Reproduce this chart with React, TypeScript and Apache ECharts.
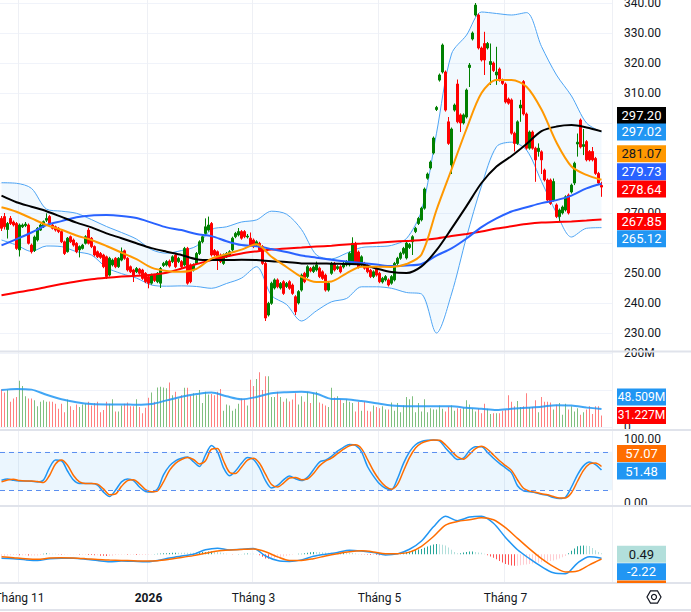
import React, { useEffect, useRef } from "react";
import * as echarts from "echarts";

const FONT = 'Roboto, "Liberation Sans", Arial, sans-serif';
const TEXT = "#131722";
const SLOTS = 204;

// x-axis month ticks (candle index) and their labels
const monthTicks = [6, 49, 84, 126, 168];
const monthLabels = ["Tháng 11", "2026", "Tháng 3", "Tháng 5", "Tháng 7"];
const yearLabel = "2026";

// candles: [open, close, low, high]
const candles: number[][] = [
  [268.2,264.9,264,269],[268.8,265.4,264.5,270],[264.5,266.5,261.5,267],[268.2,266.5,266,269],[267,266,265.5,267.5],
  [266.5,258.2,257.7,267],[257.7,266,255.5,266.5],[265.4,266,265,266.5],[265.8,266.3,265.3,267],[266,259.9,259.5,266.5],
  [259.3,257.1,256.5,259.8],[257.5,262,257,262.5],[261,264.9,260.5,265.3],[264.3,266,264,266.5],[265.4,267.1,265,267.5],
  [267.6,268.2,267,269.9],[268.8,266.5,266,269.3],[266,264.9,264.5,266.5],[265.4,264.3,263.8,265.8],[264.9,263.8,263.3,265.3],
  [263.8,260.4,260,264.2],[260.4,256.5,256,260.8],[257.1,261.6,256.8,262],[262.1,260.4,260,262.5],[261,259.3,258.8,261.5],
  [259.9,257.1,256.6,260.3],[257.7,258.8,255.2,259.2],[258.2,259.3,257.8,259.7],[259.9,262.1,259.5,262.6],[264.3,259.9,259.5,265],
  [261.6,258.8,258.3,262],[258.8,256,255.5,259.2],[257.1,255.4,255,257.5],[256.5,255.2,254.7,257],[256,252.1,251.6,256.4],
  [255.4,248.8,248,255.8],[249.3,254.9,248.8,255.4],[252.7,254.3,252.2,254.8],[254.9,252.1,251.6,255.3],[252.1,254.9,251.7,255.3],
  [254.3,257.1,253.9,258.5],[257.4,254.9,254.4,257.8],[254.9,251,250.5,255.3],[252.1,250.4,250,252.5],[251,249.3,247,251.4],
  [250.4,251.5,250,252],[251.3,249.9,249.4,251.7],[251,248.2,247.7,251.4],[249.9,247.1,246.6,250.3],[248.8,246.6,244.9,249.2],
  [246.6,249.3,246.1,249.8],[249.3,247.5,247,249.7],[247.1,249.9,246.6,250.3],[246.6,251.5,245,252],[252.5,253.2,252,253.7],
  [252.7,253.8,252.2,254.3],[254,252.3,251.8,254.5],[253.8,255.4,253.3,255.9],[256,252.1,251.6,256.5],[253.8,254.9,253.3,255.4],
  [253.8,252.1,251.6,254.3],[252.7,258.2,252.2,258.7],[258.2,246.6,246.1,258.7],[252.7,247.1,246.6,253.2],[251,252.7,250.5,253.2],
  [253.2,256.5,252.7,257],[256.5,260.4,256,260.9],[260.4,262.1,259.9,262.6],[263.2,265.4,262.7,268.2],[264.3,266,263.8,268.8],
  [266.5,256,255.5,267],[257.5,256,255.5,258],[257.1,254.9,251,257.5],[256,253.8,253.3,256.5],[253.2,256,252.7,256.5],
  [255.4,256.5,255,257],[256,257.1,255.5,257.6],[257.7,261.6,257.2,262.1],[262.1,263.2,261.6,263.7],[262.7,263.8,262.2,265],
  [263.8,261.6,261.1,264.3],[263.8,262.1,261.6,264.3],[262,262.3,261.5,263],[261.6,259.3,258.8,263.5],[261,258.8,258.3,261.5],
  [259.3,260.4,258.8,260.9],[259.9,257.7,257.2,260.4],[258.8,253.2,252.7,259.3],[253.2,235,234,253.7],[236,239.9,235.5,240.4],
  [239.9,246.6,239.4,247.1],[245,247.7,244.5,248.2],[247.7,245.4,244.9,248.2],[245,246.5,244.5,247],[247.1,243.2,242.7,247.6],
  [245.5,246.5,245,247],[247.1,244.9,244.4,247.6],[246,243.2,242.7,246.5],[242.1,237.1,236,242.6],[240,243.8,239.5,244.3],
  [244.3,249.3,243.8,249.8],[249.9,247.1,246.6,250.4],[248.8,252.1,248.3,252.6],[251.5,250.7,250.2,252],[250.5,252,250,252.5],
  [251,252.7,250.5,253.8],[251.6,248.8,248.3,252.1],[250.4,248.2,247.7,250.9],[249.3,244.3,243.8,249.8],[244.3,246.6,243.8,247.1],
  [249.9,253.2,249.4,253.7],[253.2,251,250.5,253.7],[251.5,252.1,251,252.6],[252.1,250.4,249.9,252.6],[252,253.2,251.5,253.7],
  [252.7,253.8,252.2,254.3],[252.7,256.6,252.2,257.1],[253.2,259.9,252.7,261.9],[259.9,253.2,252.7,260.4],[257,252,251.5,257.5],
  [252.7,255.4,252.2,255.9],[253.2,251.6,251.1,253.7],[252.7,250.4,249.9,253.2],[250.9,248.8,248.3,251.4],[248.8,250.4,248.3,250.9],
  [251.6,249.3,248.8,252.1],[249.9,247.1,246.6,250.4],[247,248.2,246.5,248.7],[247.7,248.8,247.2,249.3],[247.7,246,245.5,248.2],
  [246.6,248.8,246.1,249.3],[247.7,253.2,247.2,253.7],[253.2,254.9,252.7,255.4],[254.9,256.6,254.4,257.1],[256.6,258.2,256.1,258.7],
  [255,260,254.5,260.5],[258.5,259.5,258,260],[260.4,262.1,256,262.6],[263.8,264.9,263.3,265.4],[266.5,268.2,266,268.7],
  [267.7,271.6,267.2,272.1],[271.6,278,271.1,278.5],[281.6,283,281.1,283.5],[285,287,284.5,287.5],[290,295,289.5,295.5],
  [304.5,305.2,304,305.7],[314.3,316,313.8,316.5],[317,326,316.5,326.5],[317,304.3,303.8,317.5],[300.4,293.2,292.7,302],
  [286,298,283,298.5],[304.3,306,303.8,306.5],[313,300.4,299.9,314.5],[302.7,300,297,303.2],[300,302.7,299.5,303.2],
  [302,311,301.5,311.5],[318.5,319.3,312,320],[328,330,327.5,330.5],[336,339.3,335.5,340],[336,325,324.5,336.5],
  [325,321,320.5,325.5],[326.5,321,316,330.4],[325,326.5,324.5,327],[319.5,320.5,312.7,326.5],[320,317.5,317,320.5],
  [316,317,312.7,325.4],[318,314.3,313.8,318.5],[314.3,313.2,312.7,314.8],[313,307,306.5,313.5],[308,306.6,306.1,308.5],
  [307.7,296.6,296.1,308.2],[296.6,293.2,290.5,297.1],[293.2,300.4,292.7,300.9],[305,306,300.4,307.7],[313.8,303,302.5,314.3],
  [303,291.6,291.1,303.5],[291.6,297,291.1,297.5],[297,291.6,291.1,297.5],[291.6,287.7,280.4,292.1],[290.5,291.6,288.8,293.2],
  [290.4,287.7,283,290.9],[284.3,281,280.5,284.8],[281,274.3,273.8,281.5],[281,273.2,272.7,281.5],[274.3,280.5,273.8,281.5],
  [272.7,268.8,268.3,273.2],[268.8,271,267,271.5],[270,272,269.5,272.5],[271,275.4,270.5,275.9],[276,270,269.5,276.5],
  [277,279.3,276.5,279.8],[280,286.6,279.3,287.1],[293,293.6,288.8,296.5],[301,292,291.5,301.5],[292.2,292.8,289.3,298],
  [293.8,287.7,287.2,294.3],[290.5,287.7,287.2,291],[290.5,287.7,287.2,292],[288.2,283.2,282.7,288.7],[283.2,280,279.5,283.7],
  [279.2,278.64,275.4,280.4],
];

// volume in millions, one per candle
const volumes = [
  102,93,100,68,77,81,125,111,83,77, 77,72,56,68,72,68,69,68,63,49, 63,40,74,56,46,61,54,61,63,68,
  58,65,68,40,46,68,63,75,42,42, 58,63,66,56,56,75,54,37,52,79, 93,68,107,109,107,105,120,86,95,77,
  86,106,106,84,91,86,100,65,95,88, 89,86,95,103,44,61,58,44,49,63, 77,74,58,128,111,130,148,100,137,137,
  81,81,95,81,68,77,69,74,91,61,
  83,68,95,65,91,95,66,63,58,54, 106,80,83,74,65,74,68,65,42,68, 44,68,44,42,58,54,51,56,47,47,
  66,44,65,40,58,81,75,83,40,65, 42,75,40,51,47,47,58,49,42,54, 58,44,51,49,52,72,61,49,42,49,
  37,63,49,35,37,37,37,44,46,86, 68,56,70,54,56,91,54,54,72,40, 81,68,68,66,47,60,65,33,63,47,
  56,42,51,33,40,47,56,35,56,56, 31.227,
];

// indicator lines sampled every 5 candles (index 0,5,...,200)
const bbUpper = [280.1,279.9,278.2,271.3,270.6,269.9,267.8,265.5,263.5,261.3, 257.8,256.6,257.5,259,264.5,265.4,267,267.7,270.6,269.6,
  264.5,256,254.7,256.6,258.5,258.8,259.2,261.5,270.8,296.6, 323,329.3,337,336.5,336,336.8,325.5,316,309,300, 297.02];
const bbLower = [261,259.3,257.2,259,258.8,257.1,256,251.8,249.8,248.3, 246,245.6,245.7,245.5,244.9,246.5,248.3,252.1,242.5,239.5,
  234,237.4,240.4,241.5,245.4,245.4,244.9,243.5,243,230, 243,262,279,292.1,293.6,291,280.5,270,262,264.9, 265.12];
const ma20 = [271.9,270.4,268.2,266,264.4,262.5,261,259,256.8,254.6, 251.8,250.7,250.4,251.4,254.8,256.3,257.8,259.6,255.4,252,
  248.7,247,247.2,249.9,252.1,252.1,252,253,256.2,271, 284.5,298,310,314.3,314.3,312.1,304.5,293.5,285.5,282.7, 281.07];
const ma50 = [275.8,273.6,272.1,270.6,268.7,266.8,265.2,263.2,261.6,259.9, 258.3,257.1,256,254.6,254.3,254.3,254.4,254.3,253.9,253.7,
  253.2,253.2,253.1,253,252.8,251.5,250.3,250,252.2,257.6, 264.8,272.3,280,285.5,289,293,297.3,298.8,299.3,298.5, 297.2];
const ma100 = [259.2,261.3,263.5,266,267.3,268.6,269.2,269.3,269,268.3, 266.8,265.2,264.3,263,262.3,260.6,259.3,258.9,258,257,
  255.8,255.1,254.4,253.8,253.3,252.8,252.3,252.5,253,255.8, 258.2,261.5,265.3,268.2,270.5,271.9,273.3,274.3,275.8,278.2, 279.73];
const ma200 = [242.6,243.5,244.3,245.3,246.3,247.2,247.9,248.4,248.8,249.1, 249.4,250.1,251.5,253,254.3,255.5,256.5,257.2,257.8,258.2,
  258.5,258.8,259.1,259.5,259.8,260.1,260.4,260.7,261,261.5, 262.3,263,263.8,264.8,265.6,266.3,266.8,267,267.2,267.5, 267.85];
const volMa = [100,103,101,87,75,67,62,61,61,60, 62,72,82,89,93,83,75,81,91,94, 95,90,76,75,70,64,58,56,56,56,
  56,52,49,46,49,52,55,59,58,53, 48.509];

// stochastic lines sampled every 2 candles (index 0,2,...,200)
const stochK = [35.5,37.5,35.5,34.5,34.5,34,33,36,55,67, 66,50,36,30.5,30.5,30.5,28,17,10,20,
  33,37.5,35,25,18,17,22,44,58,66, 70,72,64.5,57,75,90,80,55,42.5,50, 62,71,68,55,35,23.5,27.5,36,42,38,
  35,40,52,64,67,73,81,87,91.5,90, 80,57,42,30,23,21,38,62,80,91, 96,98,98.5,97,86,76,68,70,82,88,
  88,79,70,62,55,47,27,19,17.5,16, 13.5,12,8.5,7,9,25,44,58,64,60, 51.48];
const stochD = [33,36,37,35,34.5,34.5,33.5,32,43,61, 67,59,43,33,30.5,30.5,29.5,22,13,14,
  26,35,36.5,30,21,17.5,19,33,51,62, 68,71,68,61,66,84,85,66,48,46, 56,67,70,62,45,29,25,31,39,40,
  36.5,37.5,46,58,65.5,70,77,84,89.5,91, 85,68,50,36,26,21.5,29,50,71,86, 93.5,97,98.5,98,91,81,72,68.5,76,85,
  88.5,84,75,66,58.5,51,36,23,18.5,16.8, 14.5,12.8,10,8,8,16,34,51,61,62.5, 57.07];

// MACD lines sampled every 4 candles (index 0,4,...,200)
const macdLine = [-2.3,-2.5,-3.2,-3.6,-2.6,-2.3,-2.3,-2.8,-3.6,-4.3, -3.8,-4.0,-4.3,-3.5,-2.2,-1.0,0,2.5,3.4,2.4,
  2.8,3.2,-1.0,-3.6,-4.1,-3.2,-1.2,0,1.0,2.3, 1.8,0.9,-0.4,0.2,2.8,7.5,15.5,21.5,19,21, 21.5,17.5,9.5,2.5,-2.5,-7,-10.5,-11,-5,-1.4, -2.22];
const signalLine = [-1.4,-2.0,-2.6,-2.9,-2.2,-2.0,-2.1,-2.5,-3.0,-3.3, -3.5,-3.7,-3.9,-3.7,-2.9,-1.9,-0.8,0.5,1.8,2.4,
  2.7,2.9,1.4,-1.5,-3.5,-3.5,-2.5,-1.0,0.3,1.4, 1.9,1.3,0.2,0.3,1.2,4.5,10,16.5,18.5,19.5, 20.7,19.5,15,9,3,-2.5,-7,-10,-9.5,-6, -2.71];
// MACD histogram, one per candle
const macdHist = [
  -0.9,-0.8,-0.7,-0.6,-0.5,-0.5,-0.6,-0.6,-0.6,-0.7,-0.7,-0.7,-0.7,-0.4,0.2,0.5,
  0.4,0.3,0.2,-0.1,-0.3,-0.3,-0.2,-0.2,-0.2,-0.2,-0.3,-0.3,-0.3,-0.4,-0.5,-0.6,
  -0.6,-0.8,-0.9,-1.0,-1.0,-0.8,-0.5,-0.3,-0.3,-0.2,-0.3,-0.3,-0.3,-0.4,-0.4,-0.4,
  -0.4,-0.3,-0.1,0.1,0.2,0.4,0.5,0.6,0.7,0.8,0.9,0.9,0.9,0.9,0.8,0.8,
  0.8,0.9,1.0,1.2,1.3,1.5,1.6,1.5,1.4,1.0,0.6,0.2,0,-0.1,0,0.1,
  0.1,0.3,0.4,0.3,0.3,0.1,-0.6,-1.5,-2.4,-2.6,-2.5,-2.3,-2.1,-1.7,-1.3,-0.9,
  -0.6,-0.3,0,0.2,0.3,0.6,0.9,1.1,1.3,1.3,1.2,1.1,1.0,0.9,0.8,0.7,
  0.7,0.8,0.9,0.9,0.9,0.7,0.4,0.1,-0.1,-0.2,-0.3,-0.4,-0.4,-0.5,-0.6,-0.6,
  -0.6,-0.5,-0.3,-0.2,-0.1,0.3,0.8,1.2,1.6,2.0,2.4,2.7,3.0,3.6,4.3,5.0,
  5.5,5.8,5.6,5.3,5.0,3.8,2.5,1.2,0.5,0.6,1.0,1.3,1.5,1.6,1.3,1.0,
  0.8,0.2,-0.6,-1.3,-2.0,-2.9,-3.8,-4.7,-5.5,-6.0,-6.4,-6.5,-6.5,-6.3,-6.0,-5.8,
  -5.5,-5.3,-5.0,-4.8,-4.5,-4.2,-4.0,-3.8,-3.5,-3.0,-2.4,-1.7,-1.0,0.5,2.0,3.3,
  4.5,4.8,4.9,4.8,4.6,3.5,2.3,1.3,0.49,
];

// right-scale tick values per pane
const priceTicks = [230, 240, 250, 260, 270, 280, 290, 300, 310, 320, 330, 340];
const volumeTicks = [0, 100, 200];
const stochTicks = [0, 100];

const step5 = bbUpper.map((_, k) => k * 5);
const step2 = stochK.map((_, k) => k * 2);
const step4 = macdLine.map((_, k) => k * 4);

const categories = Array.from({ length: SLOTS }, (_, i) => String(i));

function sparse(idx: number[], vals: number[]) {
  const a: (number | null)[] = new Array(SLOTS).fill(null);
  idx.forEach((ix, k) => (a[ix] = vals[k]));
  return a;
}

const isMonth = (i: number) => monthTicks.indexOf(i) >= 0;

function lineSeries(name: string, xi: number, data: (number | null)[], color: string, width: number, z = 4) {
  return {
    name, type: "line", xAxisIndex: xi, yAxisIndex: xi, data, connectNulls: true, smooth: 0.3,
    showSymbol: false, symbol: "none", silent: true, clip: false, z,
    lineStyle: { color, width },
  };
}

const PLOT_W = 612;

export default function App() {
  const ref = useRef<HTMLDivElement>(null);
  useEffect(() => {
    document.body.style.margin = "0";
    const chart = echarts.init(ref.current!, null, { renderer: "svg" });

    const gridBase = { left: 0, width: PLOT_W, outerBoundsMode: "none", containLabel: false };
    const hiddenX = (gi: number) => ({
      type: "category", gridIndex: gi, data: categories, boundaryGap: true, show: false,
    });

    const volData = volumes.map((v, i) => ({
      value: v,
      itemStyle: { color: candles[i][1] >= candles[i][0] ? "rgba(0,128,0,0.5)" : "rgba(255,0,0,0.5)" },
    }));
    const histData = macdHist.map((h, i) => {
      const prev = i > 0 ? macdHist[i - 1] : h;
      const color = h >= 0 ? (h > prev ? "#26a69a" : "#b2dfdb") : (h < prev ? "#ff5252" : "#ffcdd2");
      return { value: h, itemStyle: { color } };
    });

    const axisLabelStyle = { color: TEXT, fontSize: 12, fontFamily: FONT };

    chart.setOption({
      animation: false,
      textStyle: { fontFamily: FONT },
      grid: [
        { ...gridBase, top: 0, height: 583 },
        { ...gridBase, top: 3, height: 330 },
        { ...gridBase, top: 353, height: 74 },
        { ...gridBase, top: 439, height: 64 },
        { ...gridBase, top: 506.5, height: 76 },
      ],
      xAxis: [
        {
          type: "category", gridIndex: 0, data: categories, boundaryGap: true,
          axisLine: { show: false }, axisTick: { show: false },
          axisLabel: {
            ...axisLabelStyle, margin: 9,
            interval: (i: number) => isMonth(i),
            formatter: (v: string) => {
              const k = monthTicks.indexOf(Number(v));
              if (k < 0) return "";
              const t = monthLabels[k];
              return t === yearLabel ? `{b|${t}}` : t;
            },
            rich: { b: { fontWeight: "bold", color: TEXT, fontSize: 12, fontFamily: FONT } },
          },
          splitLine: { show: true, interval: (i: number) => isMonth(i), lineStyle: { color: "#eef0f5", width: 1 } },
        },
        hiddenX(1), hiddenX(2), hiddenX(3), hiddenX(4),
      ],
      yAxis: [
        { type: "value", gridIndex: 0, show: false, min: 0, max: 1 },
        {
          type: "value", gridIndex: 1, position: "right", min: 230, max: 340, interval: 10,
          axisLine: { show: false }, axisTick: { show: false },
          axisLabel: { ...axisLabelStyle, margin: 12, formatter: (v: number) => v.toFixed(2) },
          splitLine: { lineStyle: { color: "#f0f3fa" } },
        },
        {
          type: "value", gridIndex: 2, position: "right", min: 0, max: 200, interval: 100,
          axisLine: { show: false }, axisTick: { show: false },
          axisLabel: { ...axisLabelStyle, margin: 12, formatter: (v: number) => (v === 0 ? "0" : v + "M") },
          splitLine: { lineStyle: { color: "#f0f3fa" } },
        },
        {
          type: "value", gridIndex: 3, position: "right", min: 0, max: 100, interval: 100,
          axisLine: { show: false }, axisTick: { show: false },
          axisLabel: { ...axisLabelStyle, margin: 12, formatter: (v: number) => v.toFixed(2) },
          splitLine: { show: false },
        },
        {
          type: "value", gridIndex: 4, position: "right", min: -16, max: 27,
          axisLine: { show: false }, axisTick: { show: false }, axisLabel: { show: false },
          splitLine: { show: false },
        },
      ],
      series: [
        {
          type: "custom", xAxisIndex: 1, yAxisIndex: 1, data: [[0, 250]], clip: false, silent: true, z: 1,
          renderItem: (_p: any, api: any) => {
            const pts: number[][] = [];
            step5.forEach((ix, k) => pts.push(api.coord([ix, bbUpper[k]])));
            for (let k = step5.length - 1; k >= 0; k--) pts.push(api.coord([step5[k], bbLower[k]]));
            return { type: "polygon", shape: { points: pts }, style: { fill: "rgba(33,150,243,0.06)" } };
          },
        },
        lineSeries("bbU", 1, sparse(step5, bbUpper), "#4ea5f5", 1, 2),
        lineSeries("bbL", 1, sparse(step5, bbLower), "#4ea5f5", 1, 2),
        {
          type: "candlestick", xAxisIndex: 1, yAxisIndex: 1, data: candles, barWidth: 1.6, clip: false, z: 3,
          itemStyle: { color: "#008000", color0: "#ff0000", borderColor: "#008000", borderColor0: "#ff0000", borderWidth: 1 },
        },
        lineSeries("ma200", 1, sparse(step5, ma200), "#ff0000", 2),
        lineSeries("ma100", 1, sparse(step5, ma100), "#2962ff", 2),
        lineSeries("ma50", 1, sparse(step5, ma50), "#000000", 2),
        lineSeries("ma20", 1, sparse(step5, ma20), "#ff9800", 2),
        { type: "bar", xAxisIndex: 2, yAxisIndex: 2, data: volData, barWidth: 1, silent: true, z: 2 },
        lineSeries("volMa", 2, sparse(step5, volMa), "rgba(33,150,243,0.85)", 2),
        {
          ...lineSeries("K", 3, sparse(step2, stochK), "#2196f3", 1.5),
          markArea: { silent: true, itemStyle: { color: "rgba(33,150,243,0.09)" }, data: [[{ yAxis: 20 }, { yAxis: 80 }]] },
          markLine: {
            silent: true, symbol: "none", label: { show: false },
            lineStyle: { color: "#5b8ff0", type: [5, 4], width: 1 },
            data: [{ yAxis: 80 }, { yAxis: 20 }],
          },
        },
        lineSeries("D", 3, sparse(step2, stochD), "#ff6d00", 1.5),
        { type: "bar", xAxisIndex: 4, yAxisIndex: 4, data: histData, barWidth: 1, silent: true, z: 2 },
        lineSeries("macd", 4, sparse(step4, macdLine), "#2196f3", 1.5),
        lineSeries("signal", 4, sparse(step4, signalLine), "#ff6d00", 1.5),
      ],
    });

    // value tags on the right scale
    const n = candles.length - 1;
    const tags = [
      { v: ma50[40], yi: 1, bg: "#000000", fg: "#ffffff", d: 2, s: "", shift: -16 },
      { v: bbUpper[40], yi: 1, bg: "#2196f3", fg: "#ffffff", d: 2, s: "", shift: 0 },
      { v: ma20[40], yi: 1, bg: "#ff9800", fg: "#131722", d: 2, s: "", shift: -26 },
      { v: ma100[40], yi: 1, bg: "#2962ff", fg: "#ffffff", d: 2, s: "", shift: -12 },
      { v: candles[n][1], yi: 1, bg: "#ff0000", fg: "#ffffff", d: 2, s: "", shift: 2 },
      { v: ma200[40], yi: 1, bg: "#ff0000", fg: "#ffffff", d: 2, s: "", shift: 2 },
      { v: bbLower[40], yi: 1, bg: "#2196f3", fg: "#ffffff", d: 2, s: "", shift: 11 },
      { v: volMa[40], yi: 2, bg: "#2196f3", fg: "#ffffff", d: 3, s: "M", shift: -12 },
      { v: volumes[n], yi: 2, bg: "#ff0000", fg: "#ffffff", d: 3, s: "M", shift: 0 },
      { v: stochD[100], yi: 3, bg: "#ff6d00", fg: "#ffffff", d: 2, s: "", shift: -13 },
      { v: stochK[100], yi: 3, bg: "#2196f3", fg: "#ffffff", d: 2, s: "", shift: 1 },
      { v: macdHist[n], yi: 4, bg: "#b2dfdb", fg: "#131722", d: 2, s: "", shift: 1 },
      { v: macdLine[50], yi: 4, bg: "#2196f3", fg: "#ffffff", d: 2, s: "", shift: 13.5 },
      { v: signalLine[50], yi: 4, bg: "#ff6d00", fg: "#ffffff", d: 2, s: "", shift: 30 },
    ];
    const paneBottom: Record<number, number> = { 1: 351, 2: 430, 3: 506, 4: 583 };
    const H = 17, X0 = 617, W = 49;
    const px = (yi: number, v: number) => chart.convertToPixel({ yAxisIndex: yi } as any, v) as unknown as number;
    const placed = tags.map((t) => ({ ...t, yc: px(t.yi, t.v) + t.shift }));

    // hide scale labels that are mostly covered by a tag (as on the reference)
    const covered = (yi: number, v: number) => {
      const y = px(yi, v);
      let hit = 0;
      for (let s = -5; s <= 5; s++) {
        const yy = y + s;
        if (placed.some((t) => t.yi === yi && yy >= t.yc - H / 2 && yy <= t.yc + H / 2)) hit++;
      }
      return hit / 11 > 0.6;
    };
    const hiddenSet = (yi: number, ticks: number[]) => ticks.filter((v) => covered(yi, v));
    const hidePrice = hiddenSet(1, priceTicks);
    const hideVol = hiddenSet(2, volumeTicks);
    const hideStoch = hiddenSet(3, stochTicks);

    const graphics: any[] = [];
    graphics.push({ type: "rect", shape: { x: PLOT_W + 1, y: 507, width: 691 - PLOT_W, height: 76 }, style: { fill: "#ffffff" }, z: 50 });
    [351.5, 430, 506, 583, 610].forEach((y) =>
      graphics.push({ type: "line", shape: { x1: 0, y1: y, x2: 691, y2: y }, style: { stroke: "#e0e3eb", lineWidth: 2 }, z: 55 })
    );
    placed.forEach((t) => {
      const top = t.yc - H / 2;
      const bottom = Math.min(t.yc + H / 2, paneBottom[t.yi]);
      if (bottom - top <= 0) return;
      graphics.push({ type: "rect", shape: { x: X0, y: top, width: W, height: bottom - top }, style: { fill: t.bg }, z: 100 });
      if (bottom - top > H - 2) {
        graphics.push({
          type: "text", x: X0 + W / 2, y: t.yc, z: 101,
          style: {
            text: t.v.toFixed(t.d) + t.s, fill: t.fg, font: `${t.s ? 12 : 13}px ${FONT}`,
            textAlign: "center", align: "center", textVerticalAlign: "middle", verticalAlign: "middle",
          },
        });
      }
    });
    const cx = 654, cy = 597, r = 7;
    const hex = [0, 1, 2, 3, 4, 5].map((k) => [cx + r * Math.cos((Math.PI / 3) * k), cy + r * Math.sin((Math.PI / 3) * k)]);
    graphics.push({ type: "polygon", shape: { points: hex }, style: { fill: "none", stroke: TEXT, lineWidth: 1.2 }, z: 100 });
    graphics.push({ type: "circle", shape: { cx, cy, r: 2.5 }, style: { fill: "none", stroke: TEXT, lineWidth: 1.2 }, z: 100 });

    chart.setOption({
      yAxis: [
        {},
        { axisLabel: { formatter: (v: number) => (hidePrice.indexOf(v) >= 0 ? "" : v.toFixed(2)) } },
        { axisLabel: { formatter: (v: number) => (hideVol.indexOf(v) >= 0 ? "" : v === 0 ? "0" : v + "M") } },
        { axisLabel: { formatter: (v: number) => (hideStoch.indexOf(v) >= 0 ? "" : v.toFixed(2)) } },
        {},
      ],
      graphic: graphics,
    });
    return () => chart.dispose();
  }, []);
  return <div ref={ref} style={{ width: 691, height: 612 }} />;
}
